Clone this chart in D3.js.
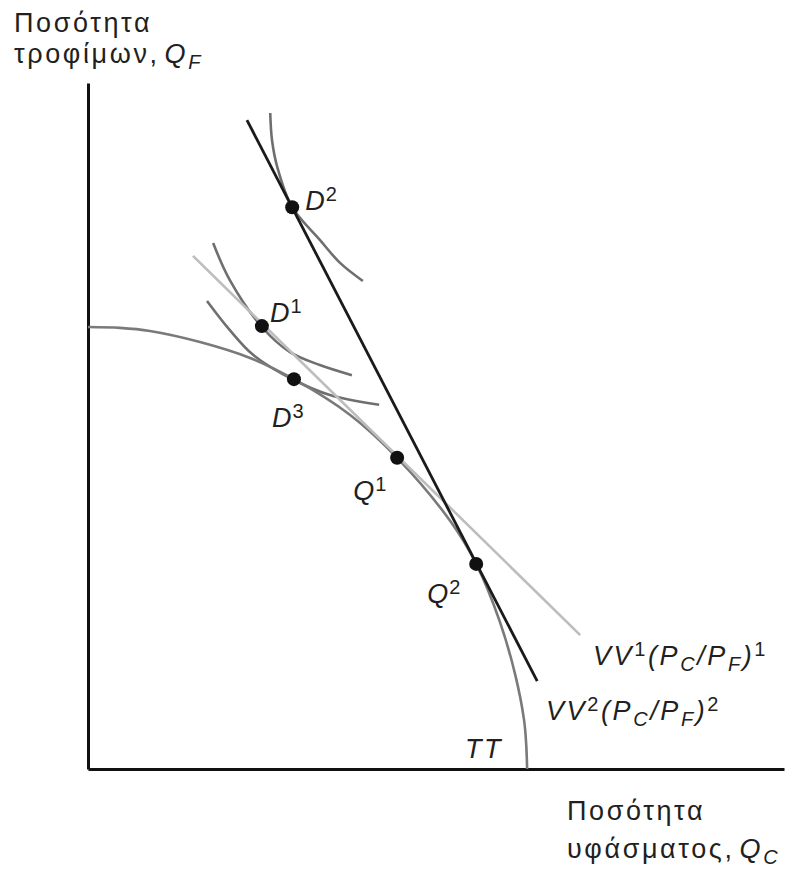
<!DOCTYPE html>
<html>
<head>
<meta charset="utf-8">
<script src="https://cdn.jsdelivr.net/npm/d3@7"></script>
<style>
  body { margin: 0; background: #fff; }
  text { font-family: "Liberation Sans", Arial, sans-serif; fill: #231f20; letter-spacing: 2.6px; }
  text.pt { letter-spacing: 1px; }
</style>
</head>
<body>
<script>
// data (units: TT meets each axis at 10)
var ttCurve = [[0, 10], [0.73, 9.98], [1.41, 9.91], [2.55, 9.66], [3.69, 9.30], [4.69, 8.82],
               [5.97, 8.01], [7.04, 7.04], [8.25, 5.61], [8.84, 4.64], [9.38, 3.33],
               [9.73, 2.13], [9.93, 1.11], [9.98, 0.54], [10, 0]];
var vv1Line = [[2.39, 11.61], [11.21, 3.03]];
var vv2Line = [[3.62, 14.68], [10.23, 1.99]];
var icD2 = [[4.15, 14.84], [4.19, 14.23], [4.31, 13.62], [4.65, 12.71], [5.28, 11.97], [5.74, 11.45], [6.26, 11.04]];
var icD1 = [[2.85, 11.90], [3.23, 11.06], [3.96, 10.0], [4.60, 9.43], [5.28, 9.14], [6.01, 8.91]];
var icD3 = [[2.71, 10.59], [3.23, 9.93], [3.76, 9.37], [4.69, 8.80], [5.51, 8.46], [6.63, 8.24]];
var pointNames = ["D2", "D1", "D3", "Q1", "Q2"];
var pointX = [4.65, 3.96, 4.69, 7.04, 8.84];
var pointY = [12.71, 10.02, 8.82, 7.04, 4.64];
var pointSup = ["2", "1", "3", "1", "2"];

var w = 792, h = 869;

var svg = d3.select("body").append("svg")
    .attr("width", w)
    .attr("height", h);

var x = d3.scaleLinear().domain([0, 15.85]).range([88, 784]);
var y = d3.scaleLinear().domain([0, 15.52]).range([769, 83]);

var line = d3.line()
    .x(function (d) { return x(d[0]); })
    .y(function (d) { return y(d[1]); })
    .curve(d3.curveCatmullRom);

// axes, no ticks
var xAxis = d3.axisBottom(x).tickValues([]).tickSizeOuter(0);
var yAxis = d3.axisLeft(y).tickValues([]).tickSizeOuter(0);
svg.append("g").attr("transform", "translate(0," + y(0) + ")").call(xAxis);
svg.append("g").attr("transform", "translate(" + x(0) + ",0)").call(yAxis);
svg.selectAll(".domain").attr("stroke", "#111").attr("stroke-width", 3);

// indifference curves
[icD2, icD1, icD3].forEach(function (c) {
    svg.append("path").datum(c)
        .attr("d", line)
        .attr("fill", "none")
        .attr("stroke", "#6f6f6f")
        .attr("stroke-width", 2.6);
});

// transformation curve TT
svg.append("path").datum(ttCurve)
    .attr("d", line)
    .attr("fill", "none")
    .attr("stroke", "#7a7a7a")
    .attr("stroke-width", 2.6);

// price lines
svg.append("path").datum(vv1Line)
    .attr("d", d3.line().x(function (d) { return x(d[0]); }).y(function (d) { return y(d[1]); }))
    .attr("stroke", "#bdbdbd")
    .attr("stroke-width", 2.6);
svg.append("path").datum(vv2Line)
    .attr("d", d3.line().x(function (d) { return x(d[0]); }).y(function (d) { return y(d[1]); }))
    .attr("stroke", "#1a1a1a")
    .attr("stroke-width", 2.8);

// points
svg.selectAll("circle")
    .data(pointNames)
    .enter()
    .append("circle")
    .attr("cx", function (d, i) { return x(pointX[i]); })
    .attr("cy", function (d, i) { return y(pointY[i]); })
    .attr("r", 7)
    .attr("fill", "#111");

// point labels (offsets from dot)
var offs = [[13, 3], [8, -4], [-22, 48], [-44, 42], [-49, 39]];
var fs = 27, fss = 20;
pointNames.forEach(function (d, i) {
    var t = svg.append("text")
        .attr("class", "pt")
        .attr("x", x(pointX[i]) + offs[i][0])
        .attr("y", y(pointY[i]) + offs[i][1])
        .attr("font-size", fs);
    t.append("tspan").attr("font-style", "italic").text(d.charAt(0));
    t.append("tspan").attr("font-size", fss).attr("dy", -9).text(pointSup[i]);
});

// VV labels
function vvLabel(px, py, n) {
    var t = svg.append("text").attr("x", px).attr("y", py).attr("font-size", fs).attr("font-style", "italic");
    t.append("tspan").text("VV");
    t.append("tspan").attr("font-size", fss).attr("font-style", "normal").attr("dy", -9).text(n);
    t.append("tspan").attr("dy", 9).text("(P");
    t.append("tspan").attr("font-size", fss).attr("dy", 6).text("C");
    t.append("tspan").attr("dy", -6).text("/P");
    t.append("tspan").attr("font-size", fss).attr("dy", 6).text("F");
    t.append("tspan").attr("dy", -6).text(")");
    t.append("tspan").attr("font-size", fss).attr("font-style", "normal").attr("dy", -9).text(n);
}
vvLabel(593, 665, "1");
vvLabel(546, 720, "2");

svg.append("text").attr("x", 465).attr("y", 758).attr("font-size", fs)
    .attr("font-style", "italic").text("TT");

// axis titles
function axisTitle(px, py, line2, sub) {
    svg.append("text").attr("x", px).attr("y", py).attr("font-size", fs).text("Ποσότητα");
    var t = svg.append("text").attr("x", px).attr("y", py + 31 + (sub == "C" ? 7 : 0)).attr("font-size", fs);
    t.append("tspan").text(line2);
    t.append("tspan").attr("dx", 5).attr("font-style", "italic").text("Q");
    t.append("tspan").attr("font-style", "italic").attr("font-size", fss).attr("dy", 6).text(sub);
}
axisTitle(14, 32, "τροφίμων,", "F");
axisTitle(567, 820, "υφάσματος,", "C");
</script>
</body>
</html>
